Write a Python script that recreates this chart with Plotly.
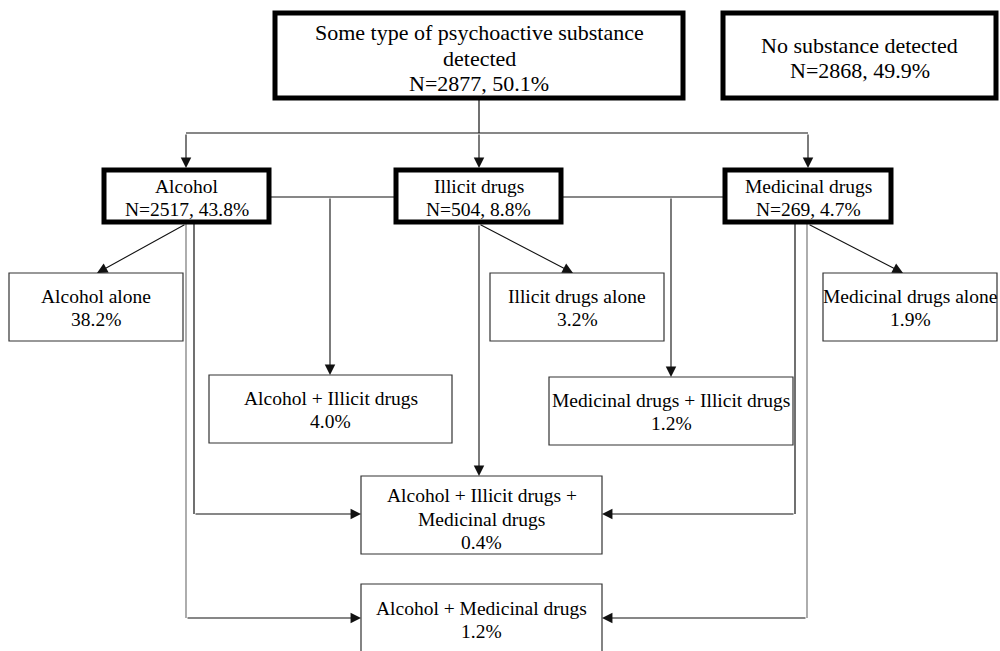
import plotly.graph_objects as go

# ---- data ----
top_labels = ["Some type of psychoactive substance|detected", "No substance detected"]
top_n = [2877, 2868]
top_pct = [50.1, 49.9]

group_labels = ["Alcohol", "Illicit drugs", "Medicinal drugs"]
group_n = [2517, 504, 269]
group_pct = [43.8, 8.8, 4.7]

combo_labels = ["Alcohol alone", "Illicit drugs alone", "Medicinal drugs alone",
                "Alcohol + Illicit drugs", "Medicinal drugs + Illicit drugs",
                "Alcohol + Illicit drugs +|Medicinal drugs", "Alcohol + Medicinal drugs"]
combo_pct = [38.2, 3.2, 1.9, 4.0, 1.2, 0.4, 1.2]

# ---- layout geometry (pixels, y downward) ----
top_boxes = [(275, 13, 683, 98, 58), (723, 13, 996, 98, 58)]
group_boxes = [(104, 170, 269, 222, 198), (396, 170, 561, 222, 198), (725, 170, 891, 222, 198)]
combo_boxes = [(9, 273, 183, 341, 308), (490, 273, 664, 341, 308), (823, 273, 997, 341, 308),
               (209, 375, 452, 443, 410), (549, 377, 793, 445, 412),
               (361, 476, 602, 554, 519), (361, 584, 602, 670, 620)]

FONT = "Liberation Serif"
shapes = []
annotations = []

def add_lines(lines, cx, cy, size):
    sp = size * 1.18
    n = len(lines)
    for i, ln in enumerate(lines):
        y = cy + (i - (n - 1) / 2) * sp
        annotations.append(dict(x=cx, y=y, xref="x", yref="y", text=ln, showarrow=False,
                                font=dict(family=FONT, size=size, color="black"),
                                xanchor="center", yanchor="middle"))

def add_box(b, width, color):
    shapes.append(dict(type="rect", xref="x", yref="y", x0=b[0], y0=b[1], x1=b[2], y1=b[3],
                       line=dict(color=color, width=width), fillcolor="white", layer="above"))

for b, lab, n, p in zip(top_boxes, top_labels, top_n, top_pct):
    add_box(b, 5, "black")
    add_lines(lab.split("|") + [f"N={n}, {p:.1f}%"], (b[0] + b[2]) / 2, b[4], 22)

for b, lab, n, p in zip(group_boxes, group_labels, group_n, group_pct):
    add_box(b, 5, "black")
    add_lines([lab, f"N={n}, {p:.1f}%"], (b[0] + b[2]) / 2, b[4], 19.5)

for b, lab, p in zip(combo_boxes, combo_labels, combo_pct):
    add_box(b, 1.2, "#333333")
    add_lines(lab.split("|") + [f"{p:.1f}%"], (b[0] + b[2]) / 2, b[4], 19.5)

def line(x0, y0, x1, y1, color="#111111"):
    shapes.insert(0, dict(type="line", xref="x", yref="y", x0=x0, y0=y0, x1=x1, y1=y1,
                          line=dict(color=color, width=1.2), layer="below"))

def arrow(x0, y0, x1, y1, color="#111111"):
    annotations.append(dict(x=x1, y=y1, ax=x0, ay=y0, xref="x", yref="y", axref="x", ayref="y",
                            text="", showarrow=True, arrowhead=2, arrowsize=1.9, arrowwidth=1.1,
                            arrowcolor=color, standoff=0, startstandoff=0))

# top distribution
line(479, 98, 479, 133)
line(186, 133, 808, 133)
arrow(186, 133, 186, 168)
arrow(479, 133, 479, 168)
arrow(808, 133, 808, 168)
# pairwise combos
line(269, 197, 396, 197)
arrow(330, 197, 330, 375)
line(561, 197, 725, 197)
arrow(671, 197, 671, 377)
# alone
arrow(186, 224, 97, 273)
arrow(479, 224, 573, 273)
arrow(808, 224, 903, 273)
# triple
arrow(479, 224, 479, 476)
line(194, 224, 194, 514)
arrow(194, 514, 361, 514)
line(795, 224, 795, 514)
arrow(795, 514, 602, 514)
# alcohol + medicinal
line(186, 224, 186, 618, "#777777")
arrow(186, 618, 361, 618)
line(807, 224, 807, 618, "#777777")
arrow(807, 618, 602, 618)

fig = go.Figure()
fig.update_layout(
    width=1000, height=651, margin=dict(l=0, r=0, t=0, b=0),
    paper_bgcolor="white", plot_bgcolor="white",
    xaxis=dict(range=[0, 1000], visible=False, fixedrange=True),
    yaxis=dict(range=[651, 0], visible=False, fixedrange=True),
    shapes=shapes, annotations=annotations, showlegend=False,
)
fig.write_html("out.html", config={"displayModeBar": False},
               post_script="document.body.style.margin='0';document.body.style.overflow='hidden';")
